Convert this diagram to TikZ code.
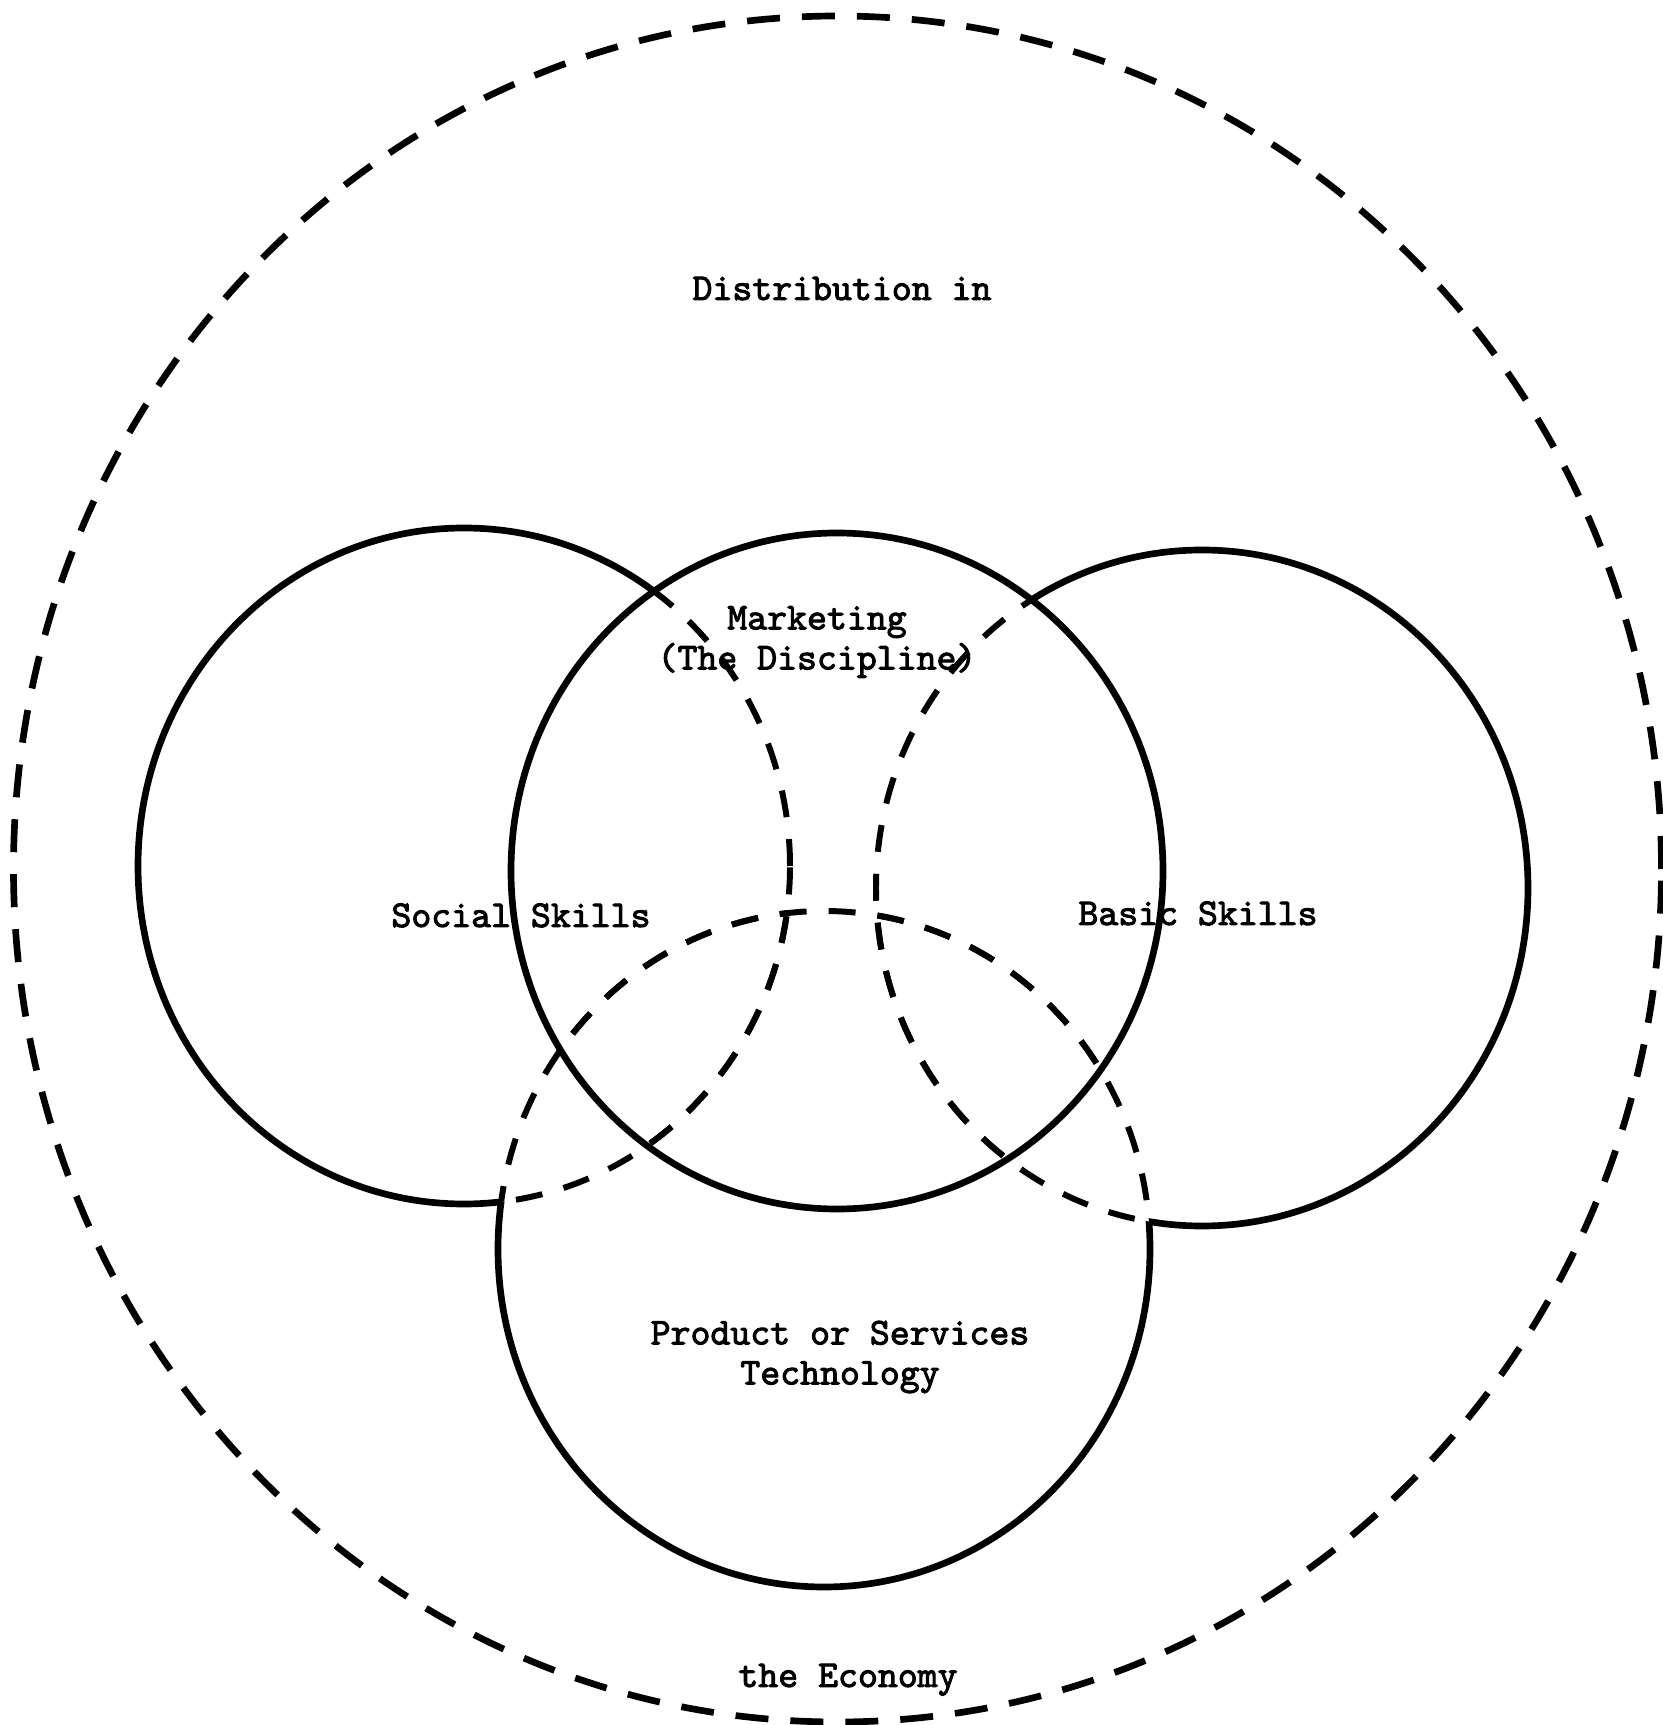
\documentclass[tikz,border=0pt]{standalone}
\usepackage{fontspec}
\newfontfamily\typewriter{Latin Modern Mono}[FakeBold=2.5]
\usepackage{tikz}

\begin{document}
\begin{tikzpicture}[
  ringsize/.style={x radius=3.26, y radius=3.38},
  solidring/.style={line width=1.9pt},
  hiddenring/.style={line width=1.7pt, dash pattern=on 0.27cm off 0.22cm},
  outerring/.style={line width=1.9pt, dash pattern=on 0.33cm off 0.22cm},
  textlabel/.style={font=\typewriter\fontsize{10.8}{11.4}\selectfont, align=center, inner sep=0pt}
]
\useasboundingbox (0,0) rectangle (16.63,17.25);
\coordinate (E) at (8.375,8.56);
\coordinate (S) at (4.64,8.59);
\coordinate (M) at (8.37,8.54);
\coordinate (B) at (12.02,8.37);
\coordinate (P) at (8.24,4.76);

% the economy
\draw[outerring] (E) ellipse [x radius=8.24, y radius=8.53];

% marketing in front
\draw[solidring] (M) ellipse [ringsize];

% social skills
\begin{scope}[even odd rule]
\clip (-1,-1) rectangle (18,18) (M) ellipse [ringsize];
\clip (-1,-1) rectangle (18,18) (P) ellipse [ringsize];
\draw[solidring] (S) ellipse [ringsize];
\end{scope}
\begin{scope}
\clip (M) ellipse [ringsize];
\draw[hiddenring] (S) ellipse [ringsize];
\end{scope}
\begin{scope}
\clip (P) ellipse [ringsize];
\draw[hiddenring] (S) ellipse [ringsize];
\end{scope}

% basic skills
\begin{scope}[even odd rule]
\clip (-1,-1) rectangle (18,18) (M) ellipse [ringsize];
\clip (-1,-1) rectangle (18,18) (P) ellipse [ringsize];
\draw[solidring] (B) ellipse [ringsize];
\end{scope}
\begin{scope}
\clip (M) ellipse [ringsize];
\draw[hiddenring] (B) ellipse [ringsize];
\end{scope}
\begin{scope}
\clip (P) ellipse [ringsize];
\draw[hiddenring] (B) ellipse [ringsize];
\end{scope}

% product or services
\begin{scope}[even odd rule]
\clip (-1,-1) rectangle (18,18) (S) ellipse [ringsize];
\clip (-1,-1) rectangle (18,18) (M) ellipse [ringsize];
\clip (-1,-1) rectangle (18,18) (B) ellipse [ringsize];
\draw[solidring] (P) ellipse [ringsize];
\end{scope}
\begin{scope}
\clip (S) ellipse [ringsize];
\draw[hiddenring] (P) ellipse [ringsize];
\end{scope}
\begin{scope}
\clip (M) ellipse [ringsize];
\draw[hiddenring] (P) ellipse [ringsize];
\end{scope}
\begin{scope}
\clip (B) ellipse [ringsize];
\draw[hiddenring] (P) ellipse [ringsize];
\end{scope}

% labels
\node[textlabel, anchor=base] (distribution) at (8.42,14.25) {Distribution in};
\node[textlabel] (marketing) at (8.17,10.83) {Marketing\\(The Discipline)};
\node[textlabel, anchor=base] (social) at (5.21,7.98) {Social Skills};
\node[textlabel, anchor=base] (basic) at (11.98,8.00) {Basic Skills};
\node[textlabel] (product) at (8.40,3.68) {Product or Services\\Technology};
\node[textlabel, anchor=base] (economy) at (8.48,0.38) {the Economy};
\end{tikzpicture}
\end{document}
